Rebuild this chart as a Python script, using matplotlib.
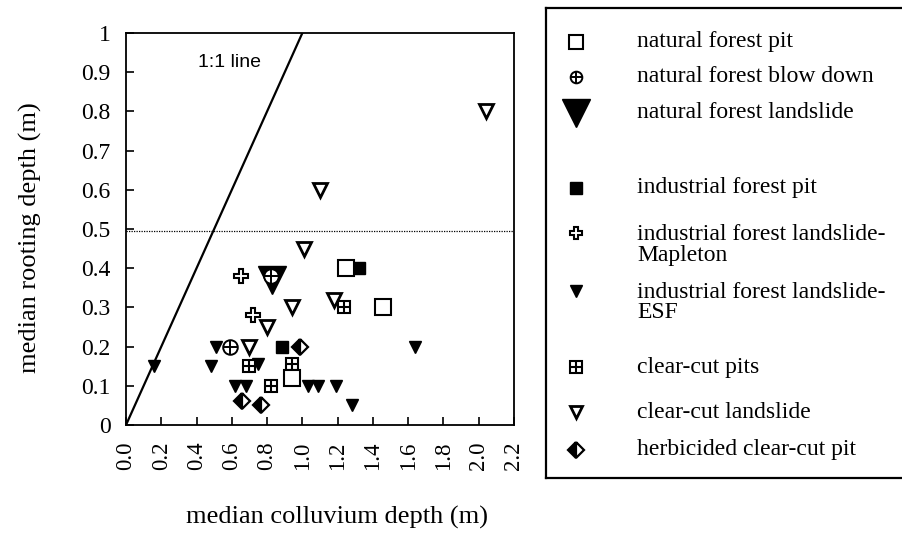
import matplotlib
matplotlib.use('Agg')
import matplotlib.pyplot as plt

plt.rcParams['font.family'] = ['Liberation Serif', 'DejaVu Serif']

# median colluvium depth (x) vs median rooting depth (y), metres
natural_pit_x = [1.25, 1.46, 0.94]
natural_pit_y = [0.40, 0.30, 0.12]
blowdown_x = [0.82, 0.59]
blowdown_y = [0.38, 0.20]
natural_slide_x = [0.83]
natural_slide_y = [0.37]
industrial_pit_x = [1.32, 0.885]
industrial_pit_y = [0.40, 0.20]
mapleton_x = [0.65, 0.72]
mapleton_y = [0.38, 0.28]
esf_x = [0.16, 0.48, 0.51, 0.62, 0.68, 0.75, 1.03, 1.09, 1.19, 1.28, 1.64]
esf_y = [0.15, 0.15, 0.20, 0.10, 0.10, 0.155, 0.10, 0.10, 0.10, 0.05, 0.20]
clearcut_slide_x = [2.04, 1.10, 1.01, 1.18, 0.94, 0.80, 0.70]
clearcut_slide_y = [0.80, 0.60, 0.45, 0.32, 0.30, 0.25, 0.20]
clearcut_pit_x = [1.235, 0.695, 0.94, 0.825]
clearcut_pit_y = [0.30, 0.15, 0.155, 0.10]
herb_x = [0.985, 0.66, 0.765]
herb_y = [0.20, 0.06, 0.05]

rooting_limit = 0.495

x_ticks = [0.0, 0.2, 0.4, 0.6, 0.8, 1.0, 1.2, 1.4, 1.6, 1.8, 2.0, 2.2]
y_ticks = [0, 0.1, 0.2, 0.3, 0.4, 0.5, 0.6, 0.7, 0.8, 0.9, 1]
y_tick_labels = ['0', '0.1', '0.2', '0.3', '0.4', '0.5', '0.6', '0.7', '0.8', '0.9', '1']

# each symbol is one or more stacked plain markers
STYLES = {
    'natural_pit': [dict(marker='s', ms=11, mfc='white', mec='black', mew=1.5)],
    'blowdown': [dict(marker='o', ms=10.5, mfc='white', mec='black', mew=1.4),
                 dict(marker='+', ms=10.5, mec='black', mew=1.4)],
    'natural_slide': [dict(marker='v', ms=20, mfc='black', mec='black', mew=1)],
    'industrial_pit': [dict(marker='s', ms=9, mfc='black', mec='black', mew=1)],
    'mapleton': [dict(marker='P', ms=9.5, mfc='white', mec='black', mew=1.5)],
    'esf': [dict(marker='v', ms=9, mfc='black', mec='black', mew=1)],
    'clearcut_slide': [dict(marker='v', ms=9.5, mfc='white', mec='black', mew=2)],
    'clearcut_pit': [dict(marker='s', ms=8.5, mfc='white', mec='black', mew=1.5),
                     dict(marker='+', ms=8.5, mec='black', mew=1.5)],
    'herb': [dict(marker='D', ms=8, mfc='black', mfcalt='white', fillstyle='left',
                  mec='black', mew=1.6)],
}


def draw_symbol(ax, x, y, key, scale=1.0):
    for st in STYLES[key]:
        st = dict(st)
        st['ms'] = st['ms'] * scale
        ax.plot(x, y, linestyle='none', **st)


fig = plt.figure(figsize=(9.02, 5.36), dpi=100)
ax = fig.add_axes([126 / 902, 1 - 425 / 536, 388 / 902, 392 / 536])

ax.plot([0, 1], [0, 1], color='black', lw=1.6)
ax.axhline(rooting_limit, color='black', lw=0.9, linestyle=(0, (1, 1)))
ax.text(0.585, 0.926, '1:1 line', family=['Liberation Sans', 'DejaVu Sans'],
        fontsize=14, ha='center', va='center')

draw_symbol(ax, natural_slide_x, natural_slide_y, 'natural_slide')
draw_symbol(ax, industrial_pit_x, industrial_pit_y, 'industrial_pit')
draw_symbol(ax, esf_x, esf_y, 'esf')
draw_symbol(ax, clearcut_slide_x, clearcut_slide_y, 'clearcut_slide')
draw_symbol(ax, clearcut_pit_x, clearcut_pit_y, 'clearcut_pit')
draw_symbol(ax, natural_pit_x, natural_pit_y, 'natural_pit')
draw_symbol(ax, blowdown_x, blowdown_y, 'blowdown')
draw_symbol(ax, mapleton_x, mapleton_y, 'mapleton')
draw_symbol(ax, herb_x, herb_y, 'herb')

ax.set_xlim(0, 2.2)
ax.set_ylim(0, 1)
ax.set_xticks(x_ticks)
ax.set_xticklabels(['%.1f' % t for t in x_ticks], rotation=90, fontsize=16.5)
ax.set_yticks(y_ticks)
ax.set_yticklabels(y_tick_labels, fontsize=17)
ax.tick_params(direction='in', length=6, width=1.2, top=False, right=False)
ax.tick_params(axis='x', pad=12)
ax.tick_params(axis='y', pad=11)
for sp in ax.spines.values():
    sp.set_linewidth(1.3)

fig.text(30 / 902, 1 - 238 / 536, 'median rooting depth (m)', rotation=90,
         fontsize=19, ha='center', va='center')
fig.text(337 / 902, 1 - 517 / 536, 'median colluvium depth (m)',
         fontsize=19, ha='center', va='center')

# key box on the right, laid out in pixel units
lg = fig.add_axes([546 / 902, 1 - 478 / 536, 366 / 902, 470 / 536])
lg.set_xlim(546, 912)
lg.set_ylim(478, 8)
lg.set_xticks([])
lg.set_yticks([])
for sp in lg.spines.values():
    sp.set_linewidth(1.6)
lg.spines['right'].set_visible(False)

legend_rows = [
    ('natural_pit', 'natural forest pit', 42, 0.9),
    ('blowdown', 'natural forest blow down', 77, 0.8),
    ('natural_slide', 'natural forest landslide', 113, 1.0),
    ('industrial_pit', 'industrial forest pit', 188, 1.0),
    ('mapleton', 'industrial forest landslide-\nMapleton', 233, 0.9),
    ('esf', 'industrial forest landslide-\nESF', 291, 0.95),
    ('clearcut_pit', 'clear-cut pits', 367, 0.95),
    ('clearcut_slide', 'clear-cut landslide', 412, 0.95),
    ('herb', 'herbicided clear-cut pit', 450, 1.05),
]
for key, label, ypix, sc in legend_rows:
    draw_symbol(lg, [576], [ypix], key, scale=sc)
    nlines = label.count('\n') + 1
    lg.text(637, ypix + (nlines - 1) * 11.5, label, fontsize=17,
            ha='left', va='center', linespacing=1.0)

fig.savefig('out.png', dpi=100)
